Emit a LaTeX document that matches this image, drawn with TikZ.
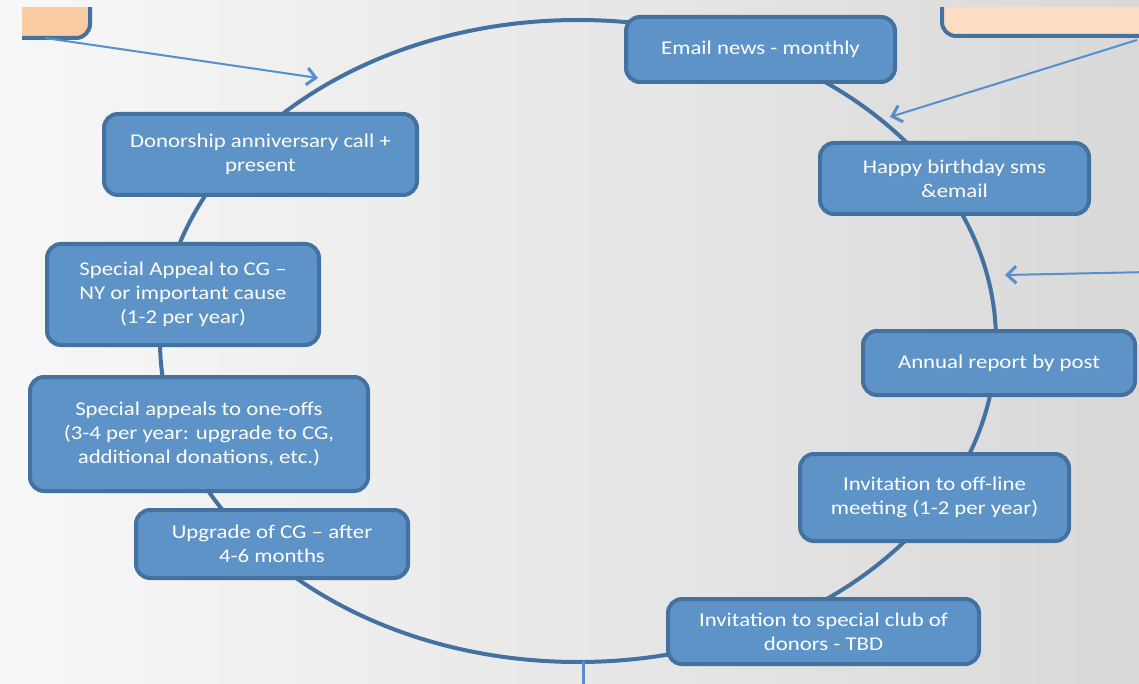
\documentclass[tikz,border=0pt]{standalone}
\usepackage{fontspec}
\setmainfont{Carlito}[FakeStretch=1.17]
\usetikzlibrary{arrows.meta,backgrounds}

\definecolor{boxfill}{RGB}{94,147,200}
\definecolor{boxline}{RGB}{68,114,160}
\definecolor{feedline}{RGB}{86,143,204}
\definecolor{peachA}{RGB}{251,204,161}
\definecolor{peachB}{RGB}{252,221,195}

\tikzset{
	stage/.style={draw=boxline,fill=boxfill,line width=4pt,rounded corners=14pt,
		text=white,align=center,inner sep=2pt,font=\fontsize{19.5}{24}\selectfont},
	source/.style={draw=boxline,line width=4pt,rounded corners=14pt},
	feed/.style={draw=feedline,line width=2pt,-{Straight Barb[length=9pt,width=17pt,line width=3pt]}},
	cycle line/.style={draw=boxline,line width=4pt}
}

\begin{document}
\begin{tikzpicture}[x=1pt,y=-1pt]
	\useasboundingbox (0,0) rectangle (1139,684);
	\shade[left color=white!97!black,right color=black!15] (0,0) rectangle (1139,684);
	
	% cut-off boxes in the corners
	\begin{scope}
		\clip (22,8) rectangle (1139,684);
		\node[source,fill=peachA,minimum width=150pt,minimum height=76pt] (srcleft) at (15,0) {};
		\node[source,fill=peachB,minimum width=260pt,minimum height=72pt] (srcright) at (1072,0) {};
	\end{scope}
	
	% the cycle
	\draw[cycle line] (578,341) ellipse [x radius=418, y radius=321];
	
	\node[stage,minimum width=269pt,minimum height=65pt] (email) at (760.5,49.5) {Email news - monthly};
	\node[stage,minimum width=269pt,minimum height=71pt] (bday) at (954.5,178.5) {Happy birthday sms\\\&email};
	\node[stage,minimum width=272pt,minimum height=64pt] (annual) at (999,363) {Annual report by post};
	\node[stage,minimum width=269pt,minimum height=87pt] (offline) at (934.5,497.5) {Invitation to off-line\\meeting (1-2 per year)};
	\node[stage,minimum width=311pt,minimum height=65pt] (club) at (823.5,631.5) {Invitation to special club of\\donors - TBD};
	\node[stage,minimum width=272pt,minimum height=68pt] (upgrade) at (272,544) {Upgrade of CG -- after\\4-6 months};
	\node[stage,minimum width=338pt,minimum height=114pt] (oneoffs) at (199,434) {Special appeals to one-offs\\(3-4 per year: upgrade to CG,\\additional donations, etc.)};
	\node[stage,minimum width=272pt,minimum height=101pt] (appealcg) at (183,294.5) {Special Appeal to CG --\\NY or important cause\\(1-2 per year)};
	\node[stage,minimum width=313pt,minimum height=81pt] (anniv) at (260.5,154.5) {Donorship anniversary call +\\present};
	
	% feeds into the cycle
	\coordinate (inleft) at (318,78);
	\coordinate (intop) at (890,117);
	\coordinate (inright) at (1005,275);
	\coordinate (fromright) at (1150,272);
	\coordinate (inbottom) at (583,661);
	\coordinate (frombottom) at (583,700);
	\draw[feed] (45,38) -- (inleft);
	\draw[feed] (1137,40) -- (intop);
	\draw[feed] (fromright) -- (inright);
	\draw[draw=feedline,line width=3pt] (frombottom) -- (inbottom);
\end{tikzpicture}
\end{document}
